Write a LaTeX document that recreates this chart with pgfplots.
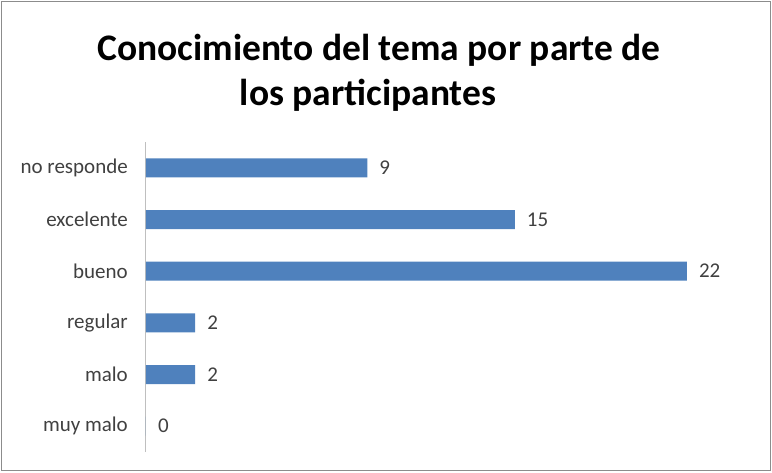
\documentclass[border=0pt]{standalone}
\usepackage{fontspec}
\setmainfont{Carlito}
\usepackage{pgfplots}
\pgfplotsset{compat=1.18}
\definecolor{barBlue}{HTML}{4F81BD}
\definecolor{frameGray}{HTML}{8C8C8C}
\definecolor{axisGray}{HTML}{BFBFBF}

\begin{document}
\begin{tikzpicture}[x=1pt,y=1pt]
  \useasboundingbox (0,0) rectangle (772,472);
  \draw[frameGray, line width=1.5pt] (1.5,1.5) rectangle (770.5,470.5);
  % title, wrapped as in the original
  \node[anchor=base, font=\fontsize{37.5}{44}\selectfont\bfseries] at (379,411)
    {Conocimiento del tema por parte de};
  \node[anchor=base, font=\fontsize{37.5}{44}\selectfont\bfseries] at (368,366)
    {los participantes};
  \begin{axis}[
    at={(146pt,20pt)}, anchor=south west,
    scale only axis,
    width=590pt, height=310pt,
    xbar,
    xmin=0, xmax=24,
    ymin=-0.5, ymax=5.5,
    bar width=19pt,
    axis x line=none,
    axis y line*=left,
    y axis line style={axisGray, line width=1pt, -},
    ytick=data,
    yticklabels={muy malo, malo, regular, bueno, excelente, no responde},
    major tick length=0pt,
    yticklabel style={font=\fontsize{21}{25}\selectfont, color=black!75, inner sep=0pt, xshift=-18pt},
    nodes near coords,
    /pgf/number format/assume math mode=true,
    every node near coord/.append style={font=\fontsize{21}{25}\selectfont, color=black!75, anchor=west, inner sep=0pt, xshift=12pt},
  ]
  \addplot[fill=barBlue, draw=none] coordinates {
    (0,0) (2,1) (2,2) (22,3) (15,4) (9,5)
  };
  \end{axis}
\end{tikzpicture}
\end{document}
